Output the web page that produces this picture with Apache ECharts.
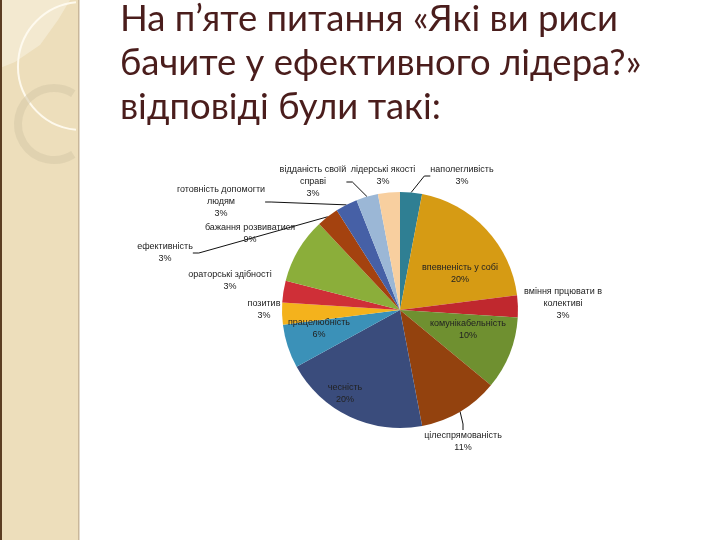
<!DOCTYPE html>
<html>
<head>
<meta charset="utf-8">
<script src="https://cdn.jsdelivr.net/npm/echarts@6/dist/echarts.min.js"></script>
<style>
  html, body { margin: 0; padding: 0; background: #fff; }
  #main { width: 720px; height: 540px; }
</style>
</head>
<body>
<div id="main"></div>
<script>
// відповіді (за годинниковою стрілкою від 12 години)
var names = [
	'наполегливість', 'впевненість у собі', 'вміння прцювати в\nколективі', 'комунікабельність',
	'цілеспрямованість', 'чесність', 'працелюбність', 'позитив', 'ораторські здібності',
	'бажання розвиватися', 'ефективність', 'готовність допомогти\nлюдям', 'відданість своїй\nсправі',
	'лідерські якості'
];
var values = [3, 20, 3, 10, 11, 20, 6, 3, 3, 9, 3, 3, 3, 3];
var colors = [
	'#2f7f93', '#d69b14', '#c0282e', '#6f9030', '#93420e', '#3a4c7c', '#3b91b8',
	'#f4b21c', '#cf2f37', '#8bae3a', '#a4420f', '#4660a6', '#9bb7d6', '#f8cf9f'
];
// куди ставити підписи (x, y центру тексту) і чи малювати виноску
var labelPos = [
	[462, 176], [460, 274], [563, 304], [468, 330], [463, 442], [345, 394], [319, 329],
	[264, 310], [230, 281], [250, 234], [165, 253], [221, 202], [313, 182], [383, 176]
];
var showLine = [true, false, false, false, true, false, false, false, false, false, true, true, true, false];

var myChart = echarts.init(document.getElementById('main'));

var pieData = [];
for (var i = 0; i < names.length; i++) {
	pieData.push({
		name: names[i],
		value: values[i],
		itemStyle: { color: colors[i] },
		labelLine: { show: showLine[i] }
	});
}

var option = {
	backgroundColor: '#ffffff',
	animation: false,
	graphic: [
		// бічна смуга слайду
		{ type: 'rect', shape: { x: 0, y: 0, width: 79, height: 540 }, style: { fill: '#eddebb' }, z: 0 },
		{ type: 'polygon', shape: { points: [[0, 0], [70, 0], [58, 20], [40, 45], [15, 62], [0, 68]] }, style: { fill: '#f3e9d0' }, z: 1 },
		{ type: 'arc', shape: { cx: 82, cy: 66, r: 64, startAngle: Math.PI * 0.53, endAngle: Math.PI * 1.47 }, style: { stroke: 'rgba(255,252,242,0.9)', lineWidth: 2, fill: 'none' }, z: 2 },
		{ type: 'arc', shape: { cx: 54, cy: 124, r: 36, startAngle: Math.PI * 0.32, endAngle: Math.PI * 1.68 }, style: { stroke: 'rgba(214,200,168,0.55)', lineWidth: 8, fill: 'none' }, z: 2 },
		{ type: 'rect', shape: { x: 0, y: 0, width: 2, height: 540 }, style: { fill: '#5b3d22' }, z: 3 },
		{ type: 'rect', shape: { x: 78, y: 0, width: 1.5, height: 540 }, style: { fill: '#c9b79a' }, z: 3 },
		{ type: 'text', x: 120, y: -3, z: 5,
		  style: {
			text: 'На п’яте питання «Які ви риси\nбачите у ефективного лідера?»\nвідповіді були такі:',
			font: '36.5px Lato', lineHeight: 44, fill: '#4a1d1c'
		  }
		}
	],
	series: [{
		name: 'відповіді',
		type: 'pie',
		center: [400, 310],
		radius: 118,
		startAngle: 90,
		clockwise: true,
		avoidLabelOverlap: false,
		label: {
			show: true,
			position: 'outside',
			formatter: '{b}\n{d}%',
			fontFamily: 'Liberation Sans',
			fontSize: 9,
			lineHeight: 12,
			color: '#222',
			align: 'center'
		},
		labelLine: {
			show: true,
			length: 6,
			length2: 6,
			lineStyle: { color: '#111', width: 1 }
		},
		labelLayout: function (params) {
			var p = labelPos[params.dataIndex];
			return { x: p[0], y: p[1], align: 'center', verticalAlign: 'middle', hideOverlap: false };
		},
		data: pieData
	}]
};
myChart.setOption(option);
</script>
</body>
</html>
